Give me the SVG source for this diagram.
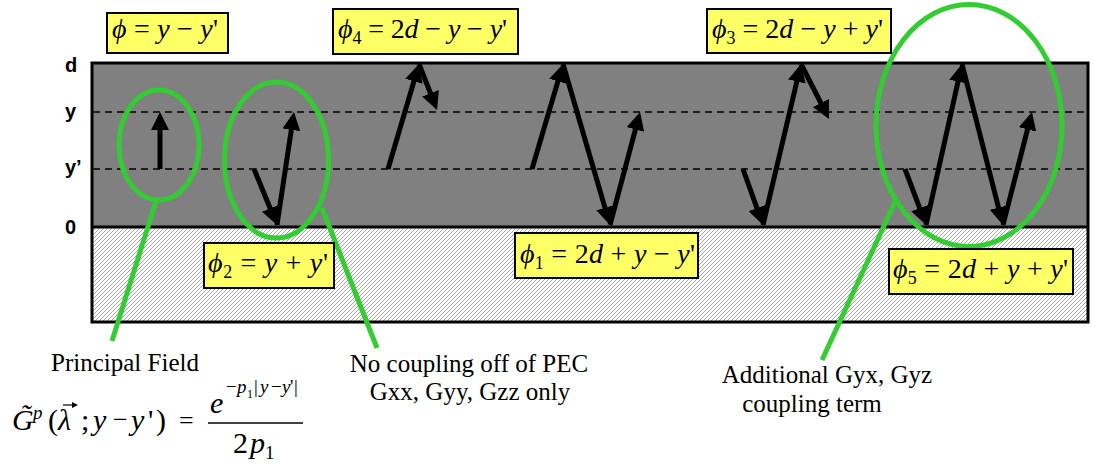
<svg xmlns="http://www.w3.org/2000/svg" width="1094" height="468" viewBox="0 0 1094 468">
<style>
.ax{font-family:"Liberation Sans",Arial,sans-serif;font-weight:bold;font-size:20px;fill:#000}
.eq{font-family:"Liberation Serif","Times New Roman",serif;font-size:28px;fill:#000}
.i{font-style:italic}
.sub{font-size:18px}
.box{fill:#ffff66;stroke:#000;stroke-width:2}
.lbl{font-family:"Liberation Serif","Times New Roman",serif;font-size:25px;fill:#000;text-anchor:middle}
.fm{font-family:"Liberation Serif","Times New Roman",serif;font-size:30px;fill:#000}
.op{font-size:26px}
.sup{font-size:19px}
.ray{stroke:#000;stroke-width:5;fill:none;marker-end:url(#ah)}
.grn{stroke:#33cc33;stroke-width:5;fill:none}
.dash{stroke:#000;stroke-width:1.5;stroke-dasharray:7,5}
</style>
<defs>
<pattern id="hatch" patternUnits="userSpaceOnUse" width="4" height="4">
<rect width="4" height="4" fill="#ffffff"/>
<path d="M-1,1 L1,-1 M0,4 L4,0 M3,5 L5,3" stroke="#a8a8a8" stroke-width="1"/>
</pattern>
<marker id="ah" markerUnits="userSpaceOnUse" markerWidth="18" markerHeight="18" viewBox="0 0 18 18" refX="8" refY="9" orient="auto">
<path d="M0,0 L18,9 L0,18 z" fill="#000"/>
</marker>
<marker id="vec" markerUnits="userSpaceOnUse" markerWidth="6" markerHeight="6" viewBox="0 0 6 6" refX="3" refY="3" orient="auto">
<path d="M0,0 L6,3 L0,6 z" fill="#000"/>
</marker>
</defs>
<rect width="1094" height="468" fill="#fff"/>

<g id="layers">
<rect x="92" y="63" width="996" height="164" fill="#808080"/>
<rect x="92" y="227" width="996" height="95" fill="url(#hatch)"/>
<rect x="92" y="63" width="996" height="259" fill="none" stroke="#000" stroke-width="3"/>
<line x1="92" y1="227" x2="1088" y2="227" stroke="#000" stroke-width="3"/>
<line class="dash" x1="93" y1="112" x2="1087" y2="112"/>
<line class="dash" x1="93" y1="169" x2="1087" y2="169"/>
</g>

<g id="axis-labels">
<text class="ax" x="65" y="72">d</text>
<text class="ax" x="65" y="118">y</text>
<text class="ax" x="65" y="174">y’</text>
<text class="ax" x="65" y="234">0</text>
</g>

<g id="connectors">
<line class="ray" x1="160" y1="169" x2="160" y2="122"/>
<line class="ray" x1="254" y1="169" x2="273.2" y2="215.7"/>
<line class="ray" x1="277" y1="225" x2="292.5" y2="121.9"/>
<line class="ray" x1="388" y1="169" x2="416.2" y2="73.6"/>
<line class="ray" x1="419" y1="64" x2="433.4" y2="100.7"/>
<line class="ray" x1="532" y1="169" x2="560.2" y2="73.6"/>
<line class="ray" x1="563" y1="64" x2="607.2" y2="215.4"/>
<line class="ray" x1="610" y1="225" x2="637.5" y2="121.7"/>
<line class="ray" x1="743" y1="169" x2="759.6" y2="215.6"/>
<line class="ray" x1="763" y1="225" x2="798.7" y2="73.7"/>
<line class="ray" x1="801" y1="64" x2="824.5" y2="110.1"/>
<line class="ray" x1="905" y1="169" x2="922.5" y2="215.6"/>
<line class="ray" x1="926" y1="225" x2="959.8" y2="73.8"/>
<line class="ray" x1="962" y1="64" x2="1000.5" y2="215.3"/>
<line class="ray" x1="1003" y1="225" x2="1029.5" y2="121.7"/>
</g>

<g id="callouts">
<ellipse class="grn" cx="159" cy="145" rx="40" ry="55"/>
<ellipse class="grn" cx="276.5" cy="160" rx="52" ry="78"/>
<ellipse class="grn" cx="969" cy="125.5" rx="93" ry="121"/>
<line class="grn" x1="157" y1="198" x2="112" y2="341"/>
<line class="grn" x1="322" y1="208" x2="377" y2="348"/>
<line class="grn" x1="895" y1="202" x2="822" y2="360"/>
</g>

<g id="phi0">
<rect class="box" x="107" y="13" width="121" height="40"/>
<text class="eq" x="112" y="38" textLength="106" lengthAdjust="spacing"><tspan class="i">ϕ</tspan> = <tspan class="i">y</tspan> − <tspan class="i">y</tspan>'</text>
</g>
<g id="phi4">
<rect class="box" x="333" y="9" width="185" height="45"/>
<text class="eq" x="338" y="38" textLength="169" lengthAdjust="spacing"><tspan class="i">ϕ</tspan><tspan class="sub" dy="6">4</tspan><tspan dy="-6"> = 2</tspan><tspan class="i">d</tspan> − <tspan class="i">y</tspan> − <tspan class="i">y</tspan>'</text>
</g>
<g id="phi3">
<rect class="box" x="707" y="9" width="184" height="44"/>
<text class="eq" x="712" y="38" textLength="171" lengthAdjust="spacing"><tspan class="i">ϕ</tspan><tspan class="sub" dy="6">3</tspan><tspan dy="-6"> = 2</tspan><tspan class="i">d</tspan> − <tspan class="i">y</tspan> + <tspan class="i">y</tspan>'</text>
</g>
<g id="phi2">
<rect class="box" x="204" y="243" width="130" height="45"/>
<text class="eq" x="208" y="272" textLength="120" lengthAdjust="spacing"><tspan class="i">ϕ</tspan><tspan class="sub" dy="6">2</tspan><tspan dy="-6"> = </tspan><tspan class="i">y</tspan> + <tspan class="i">y</tspan>'</text>
</g>
<g id="phi1">
<rect class="box" x="515" y="233" width="183" height="45"/>
<text class="eq" x="520" y="263" textLength="175" lengthAdjust="spacing"><tspan class="i">ϕ</tspan><tspan class="sub" dy="6">1</tspan><tspan dy="-6"> = 2</tspan><tspan class="i">d</tspan> + <tspan class="i">y</tspan> − <tspan class="i">y</tspan>'</text>
</g>
<g id="phi5">
<rect class="box" x="889" y="249" width="184" height="45"/>
<text class="eq" x="893" y="278" textLength="175" lengthAdjust="spacing"><tspan class="i">ϕ</tspan><tspan class="sub" dy="6">5</tspan><tspan dy="-6"> = 2</tspan><tspan class="i">d</tspan> + <tspan class="i">y</tspan> + <tspan class="i">y</tspan>'</text>
</g>

<g id="label-principal">
<text class="lbl" x="125" y="371">Principal Field</text>
</g>
<g id="label-pec">
<text class="lbl" x="469" y="372">No coupling off of PEC</text>
<text class="lbl" x="470" y="400">Gxx, Gyy, Gzz only</text>
</g>
<g id="label-additional">
<text class="lbl" x="827" y="383">Additional Gyx, Gyz</text>
<text class="lbl" x="812" y="412">coupling term</text>
</g>

<g id="formula">
<text class="fm i" x="12" y="430">G̃</text>
<text class="fm i sup" x="33" y="419">p</text>
<text class="fm" x="48" y="430">(</text>
<text class="fm i" x="58" y="430">λ</text>
<line x1="63" y1="405" x2="75" y2="405" stroke="#000" stroke-width="1.2" marker-end="url(#vec)"/>
<text class="fm" x="81" y="430">;</text>
<text class="fm i" x="93" y="430">y</text>
<text class="fm op" x="113" y="428">−</text>
<text class="fm i" x="131" y="430">y</text>
<text class="fm" x="148" y="430">'</text>
<text class="fm" x="156" y="430">)</text>
<text class="fm op" x="179" y="429">=</text>
<text class="fm i" x="210" y="413">e</text>
<text class="fm sup" x="226" y="393">−</text>
<text class="fm i sup" x="237" y="393">p</text>
<text class="fm" x="247" y="398" style="font-size:12px">1</text>
<text class="fm sup" x="254" y="393">|</text>
<text class="fm i sup" x="260" y="393">y</text>
<text class="fm sup" x="271" y="393">−</text>
<text class="fm i sup" x="282" y="393">y</text>
<text class="fm sup" x="290" y="393">'</text>
<text class="fm sup" x="294" y="393">|</text>
<line x1="208" y1="423" x2="303" y2="423" stroke="#000" stroke-width="1.3"/>
<text class="fm" x="233" y="453">2</text>
<text class="fm i" x="250" y="453">p</text>
<text class="fm" x="265" y="459" style="font-size:19px">1</text>
</g>
</svg>
